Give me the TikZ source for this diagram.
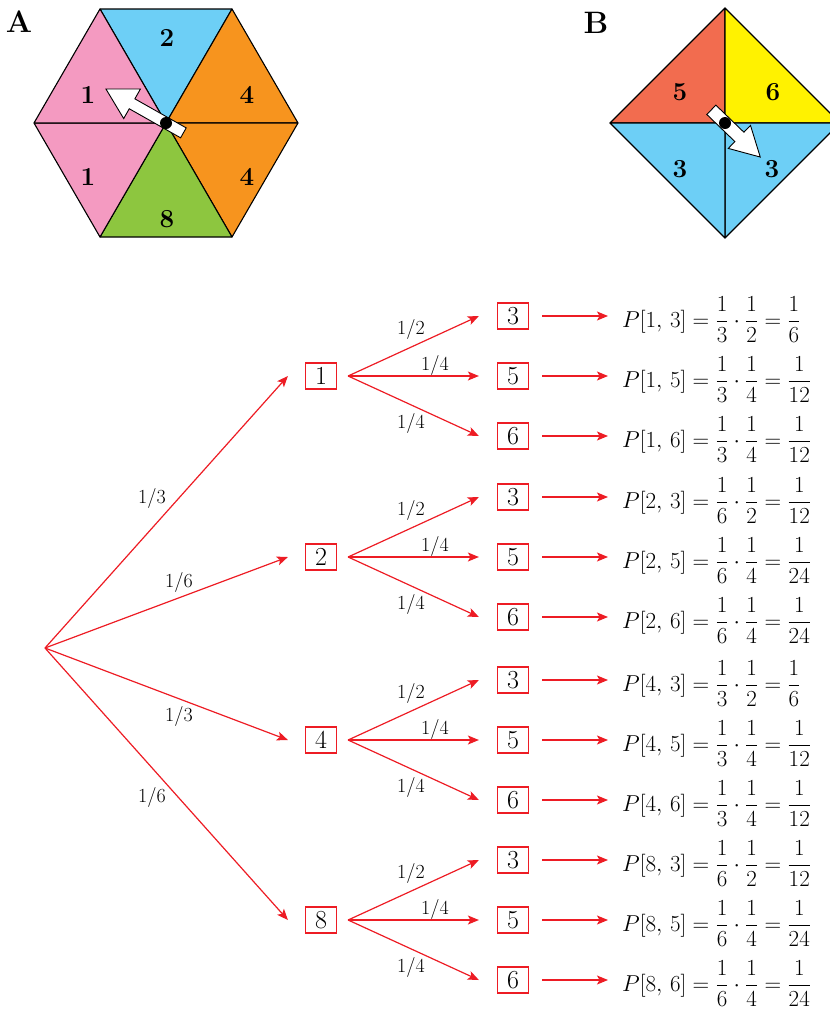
\RequirePackage{fix-cm}
\documentclass[tikz,border=0pt]{standalone}
\usepackage{amsmath}
\usetikzlibrary{arrows.meta}
\definecolor{tred}{HTML}{ED1C24}
\definecolor{spink}{HTML}{F49AC1}
\definecolor{sblue}{HTML}{6DCFF6}
\definecolor{sorange}{HTML}{F7941E}
\definecolor{sgreen}{HTML}{8DC63F}
\definecolor{sred}{HTML}{F26C4F}
\definecolor{syellow}{HTML}{FFF200}
\tikzset{
  sector/.style={draw=black, line width=1.1pt, line join=round},
  spinlbl/.style={font=\fontsize{26}{28}\selectfont\bfseries, inner sep=0},
  panel/.style={font=\fontsize{31}{33}\selectfont\bfseries, inner sep=0},
  pointer/.style={draw=black, fill=white, line width=0.9pt, line join=miter},
  hub/.style={circle, fill=black, inner sep=0, minimum size=12pt},
  outcome/.style={draw=tred, line width=1.2pt, minimum width=31pt, minimum height=26pt, inner sep=0, font=\fontsize{26}{28}\selectfont},
  branch/.style={draw=tred, line width=1.2pt, -{Stealth[length=11pt,width=9pt,inset=2.5pt]}},
  prob/.style={font=\fontsize{20}{22}\selectfont, inner sep=0},
  result/.style={font=\fontsize{23}{27}\selectfont, inner sep=0, anchor=base west},
}
\begin{document}
\begin{tikzpicture}[x=1pt,y=-1pt]
\useasboundingbox (0,0) rectangle (830,1010);

% ---------- Spinner A ----------
\coordinate (ac) at (166,123);
\coordinate (a1) at (100,9);
\coordinate (a2) at (232,9);
\coordinate (a3) at (298,123);
\coordinate (a4) at (232,237);
\coordinate (a5) at (100,237);
\coordinate (a6) at (34,123);
\filldraw[sector, fill=sblue]   (ac) -- (a1) -- (a2) -- cycle;
\filldraw[sector, fill=sorange] (ac) -- (a2) -- (a3) -- cycle;
\filldraw[sector, fill=sorange] (ac) -- (a3) -- (a4) -- cycle;
\filldraw[sector, fill=sgreen]  (ac) -- (a4) -- (a5) -- cycle;
\filldraw[sector, fill=spink]   (ac) -- (a5) -- (a6) -- cycle;
\filldraw[sector, fill=spink]   (ac) -- (a6) -- (a1) -- cycle;
\node[spinlbl] (la1) at (88,95) {1};
\node[spinlbl] (la2) at (167,38) {2};
\node[spinlbl] (la3) at (247,95) {4};
\node[spinlbl] (la4) at (247,177) {4};
\node[spinlbl] (la5) at (167,219) {8};
\node[spinlbl] (la6) at (88,177) {1};
\begin{scope}[shift={(ac)}, rotate=150.5]
  \draw[pointer] (-20,-5.7) -- (39,-5.7) -- (39,-17) -- (69,0) -- (39,17) -- (39,5.7) -- (-20,5.7) -- cycle;
\end{scope}
\node[hub] (hubA) at (ac) {};
\node[panel] (pA) at (19,22) {A};

% ---------- Spinner B ----------
\coordinate (bc) at (725,123);
\coordinate (b1) at (725,8);
\coordinate (b2) at (840,123);
\coordinate (b3) at (725,238);
\coordinate (b4) at (610,123);
\filldraw[sector, fill=sred]    (bc) -- (b4) -- (b1) -- cycle;
\filldraw[sector, fill=syellow] (bc) -- (b1) -- (b2) -- cycle;
\filldraw[sector, fill=sblue]   (bc) -- (b2) -- (b3) -- cycle;
\filldraw[sector, fill=sblue]   (bc) -- (b3) -- (b4) -- cycle;
\node[spinlbl] (lb1) at (680,92) {5};
\node[spinlbl] (lb2) at (773,92) {6};
\node[spinlbl] (lb3) at (772,169) {3};
\node[spinlbl] (lb4) at (680,169) {3};
\begin{scope}[shift={(bc)}, rotate=-44]
  \draw[pointer] (-19,-6.5) -- (20,-6.5) -- (20,-16) -- (49,0) -- (20,16) -- (20,6.5) -- (-19,6.5) -- cycle;
\end{scope}
\node[hub] (hubB) at (bc) {};
\node[panel] (pB) at (596,23) {B};

% ---------- Tree ----------
\coordinate (root) at (45,648);
\node[outcome] (n1) at (321,376) {1};
\node[outcome] (n2) at (321,557) {2};
\node[outcome] (n4) at (321,740) {4};
\node[outcome] (n8) at (321,920) {8};
\foreach \g in {1,2,4,8} {
  \draw[branch] (root) -- ([xshift=-17pt]n\g.west);
}
\node[prob] (t1) at (152,498) {1/3};
\node[prob] (t2) at (179,582) {1/6};
\node[prob] (t4) at (179,716) {1/3};
\node[prob] (t8) at (152,797) {1/6};

\foreach \g/\y/\d/\ra/\rb in {1/376/3/6/12, 2/557/6/12/24, 4/740/3/6/12, 8/920/6/12/24} {
  \node[outcome] (o\g3) at (513,\y-60) {3};
  \node[outcome] (o\g5) at (513,\y) {5};
  \node[outcome] (o\g6) at (513,\y+60) {6};
  \draw[branch] ([xshift=11pt]n\g.east) -- ([xshift=-18pt]o\g3.west);
  \draw[branch] ([xshift=11pt]n\g.east) -- ([xshift=-18pt]o\g5.west);
  \draw[branch] ([xshift=11pt]n\g.east) -- ([xshift=-18pt]o\g6.west);
  \node[prob] (q\g3) at (411,\y-47) {1/2};
  \node[prob] (q\g5) at (435,\y-11) {1/4};
  \node[prob] (q\g6) at (411,\y+47) {1/4};
  \node[result] (e\g3) at (622,\y-49) {$P[\g,\,3] = \dfrac{1}{\d}\cdot\dfrac{1}{2} = \dfrac{1}{\ra}$};
  \node[result] (e\g5) at (622,\y+11) {$P[\g,\,5] = \dfrac{1}{\d}\cdot\dfrac{1}{4} = \dfrac{1}{\rb}$};
  \node[result] (e\g6) at (622,\y+71) {$P[\g,\,6] = \dfrac{1}{\d}\cdot\dfrac{1}{4} = \dfrac{1}{\rb}$};
  \draw[branch, shorten <=13pt, shorten >=14pt] (o\g3.east) -- (o\g3.east -| e\g3.west);
  \draw[branch, shorten <=13pt, shorten >=14pt] (o\g5.east) -- (o\g5.east -| e\g5.west);
  \draw[branch, shorten <=13pt, shorten >=14pt] (o\g6.east) -- (o\g6.east -| e\g6.west);
}
\end{tikzpicture}
\end{document}
